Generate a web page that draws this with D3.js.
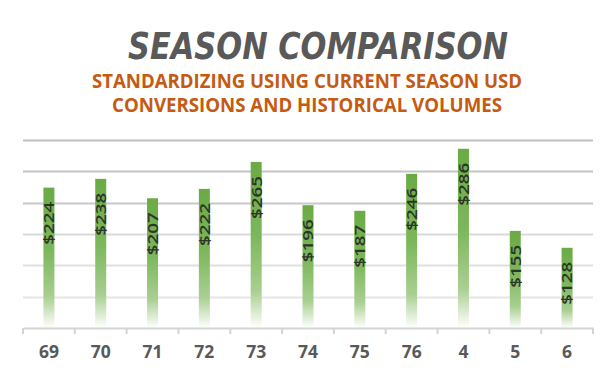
<!DOCTYPE html>
<html>
<head>
<meta charset="utf-8">
<script src="https://cdn.jsdelivr.net/npm/d3@7"></script>
<style>
  html, body { margin: 0; padding: 0; background: #fff; }
  svg { display: block; }
</style>
</head>
<body>
<div id="chart"></div>
<script>
// data
const seasons = ["69", "70", "71", "72", "73", "74", "75", "76", "4", "5", "6"];
const values = [224, 238, 207, 222, 265, 196, 187, 246, 286, 155, 128];
const gridValues = [50, 100, 150, 200, 250, 300];
const titleText = "SEASON COMPARISON";
const subtitleLines = ["STANDARDIZING USING CURRENT SEASON USD", "CONVERSIONS AND HISTORICAL VOLUMES"];

const width = 616, height = 377;
const margin = { left: 23, right: 23, top: 140, bottom: 49 };

const svg = d3.select("#chart").append("svg")
  .attr("width", width)
  .attr("height", height);

// bar gradient: green on top, fading to white at the base
const defs = svg.append("defs");
const grad = defs.append("linearGradient")
  .attr("id", "barGrad")
  .attr("x1", 0).attr("y1", 0).attr("x2", 0).attr("y2", 1);
grad.append("stop").attr("offset", "0%").attr("stop-color", "#6aab45");
grad.append("stop").attr("offset", "45%").attr("stop-color", "#7db75c");
grad.append("stop").attr("offset", "78%").attr("stop-color", "#a9cf91");
grad.append("stop").attr("offset", "100%").attr("stop-color", "#ffffff");

const x = d3.scaleBand()
  .domain(seasons)
  .range([margin.left, width - margin.right])
  .padding(0);

const y = d3.scaleLinear()
  .domain([0, 300])
  .range([height - margin.bottom, margin.top]);

// gridlines look darker near the top in the original
const gridColor = d3.scaleLinear()
  .domain([50, 150, 200, 300])
  .range(["#e6e6e6", "#dadada", "#c8c8c8", "#c0c0c0"]);

svg.append("g")
  .selectAll("line")
  .data(gridValues)
  .join("line")
  .attr("x1", margin.left)
  .attr("x2", width - margin.right)
  .attr("y1", d => Math.round(y(d)) + 0.5)
  .attr("y2", d => Math.round(y(d)) + 0.5)
  .attr("stroke", d => gridColor(d))
  .attr("stroke-width", 2);

// bars
const barW = 11;
svg.append("g")
  .selectAll("rect")
  .data(values)
  .join("rect")
  .attr("x", (d, i) => x(seasons[i]) + x.bandwidth() / 2 - barW / 2)
  .attr("y", d => y(d))
  .attr("width", barW)
  .attr("height", d => y(0) - y(d))
  .attr("fill", "url(#barGrad)");

// x axis with ticks between categories
const axis = svg.append("g")
  .attr("transform", `translate(0,${y(0)})`)
  .call(d3.axisBottom(x).tickSize(0).tickPadding(18));
axis.select(".domain").attr("stroke", "#d4d4d4").attr("stroke-width", 2);
axis.selectAll("text")
  .attr("fill", "#595959")
  .style("font-family", "'Open Sans', sans-serif")
  .style("font-weight", "bold")
  .style("font-size", "17.5px")
  .attr("dy", "0.71em");

const bounds = seasons.map(s => x(s)).concat([x(seasons[seasons.length - 1]) + x.bandwidth()]);
axis.selectAll("line.sep")
  .data(bounds)
  .join("line")
  .attr("class", "sep")
  .attr("x1", d => d).attr("x2", d => d)
  .attr("y1", 0).attr("y2", 6)
  .attr("stroke", "#d4d4d4")
  .attr("stroke-width", 2);

// data labels, rotated, just below the top of each bar
svg.append("g")
  .selectAll("text")
  .data(values)
  .join("text")
  .attr("transform", (d, i) => {
    const cx = x(seasons[i]) + x.bandwidth() / 2;
    return `translate(${cx},${y(d) + 14}) rotate(-90)`;
  })
  .attr("text-anchor", "end")
  .attr("dy", "0.36em")
  .attr("textLength", 43)
  .attr("lengthAdjust", "spacingAndGlyphs")
  .attr("fill", "#2c3627")
  .style("font-family", "'Open Sans', sans-serif")
  .style("font-weight", "600")
  .style("font-size", "15px")
  .text(d => "$" + d);

// title
svg.append("text")
  .attr("x", 318)
  .attr("y", 59)
  .attr("text-anchor", "middle")
  .attr("textLength", 380)
  .attr("lengthAdjust", "spacingAndGlyphs")
  .attr("fill", "#595959")
  .style("font-family", "'DejaVu Sans', sans-serif")
  .style("font-weight", "bold")
  .style("font-style", "italic")
  .style("font-size", "37px")
  .text(titleText);

// subtitle
const subLengths = [430, 390];
svg.append("g")
  .selectAll("text")
  .data(subtitleLines)
  .join("text")
  .attr("x", 307)
  .attr("y", (d, i) => 88 + i * 24.4)
  .attr("text-anchor", "middle")
  .attr("textLength", (d, i) => subLengths[i])
  .attr("lengthAdjust", "spacingAndGlyphs")
  .attr("fill", "#c55a11")
  .style("font-family", "'Open Sans', sans-serif")
  .style("font-weight", "bold")
  .style("font-size", "20px")
  .text(d => d);
</script>
</body>
</html>
